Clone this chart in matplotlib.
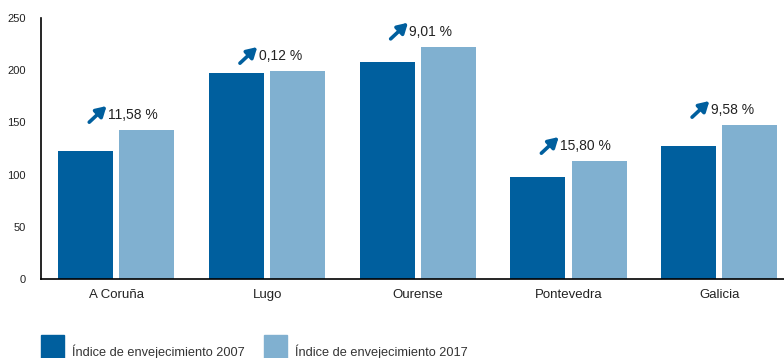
import matplotlib
matplotlib.use('Agg')
import matplotlib.pyplot as plt
from matplotlib.patches import Rectangle

plt.rcParams['font.family'] = ['Liberation Sans', 'DejaVu Sans']

# Data
provinces = ['A Coruña', 'Lugo', 'Ourense', 'Pontevedra', 'Galicia']
index_2007 = [122.6, 197.0, 207.9, 97.7, 127.4]
index_2017 = [142.7, 199.2, 222.5, 113.0, 147.5]
change_labels = ['11,58 %', '0,12 %', '9,01 %', '15,80 %', '9,58 %']

DARK = '#005f9e'
LIGHT = '#80b0d0'
TEXT = '#222222'

fig = plt.figure(figsize=(7.84, 3.58), dpi=100)
ax = fig.add_axes([41/784, 1 - 279/358, 1 - 41/784, (279 - 18)/358])

x = list(range(len(provinces)))
width = 0.365
off = 0.203
ax.bar([xi - off for xi in x], index_2007, width=width, color=DARK)
ax.bar([xi + off for xi in x], index_2017, width=width, color=LIGHT)

# change annotations with arrow
for xi, v, lab in zip(x, index_2017, change_labels):
    ax.annotate('', xy=(xi - 0.065, v + 23), xytext=(xi - 0.18, v + 7.5),
                arrowprops=dict(arrowstyle='-|>,head_length=0.6,head_width=0.35',
                                color=DARK, lw=2.6, shrinkA=0, shrinkB=0))
    ax.text(xi - 0.055, v + 14.5, lab, ha='left', va='center', fontsize=10, color=TEXT)

ax.set_xlim(-0.5, 4.43)
ax.set_ylim(0, 250)
ax.set_yticks([0, 50, 100, 150, 200, 250])
ax.set_xticks(x)
ax.set_xticklabels(provinces, fontsize=9.5, color=TEXT)
ax.tick_params(axis='y', length=0, pad=11, labelsize=8, labelcolor=TEXT)
ax.tick_params(axis='x', length=0, pad=7)
for s in ['top', 'right']:
    ax.spines[s].set_visible(False)
ax.spines['left'].set_linewidth(1.2)
ax.spines['bottom'].set_linewidth(1.2)

# legend at the bottom
for x0, col, lab in [(41, DARK, 'Índice de envejecimiento 2007'),
                     (264, LIGHT, 'Índice de envejecimiento 2017')]:
    fig.add_artist(Rectangle((x0/784, 0), 23/784, 23/358, transform=fig.transFigure,
                             color=col))
    fig.text((x0 + 31)/784, 1 - 352/358, lab, ha='left', va='center',
             fontsize=9.2, color='#333333')

fig.savefig('out.png', dpi=100)
